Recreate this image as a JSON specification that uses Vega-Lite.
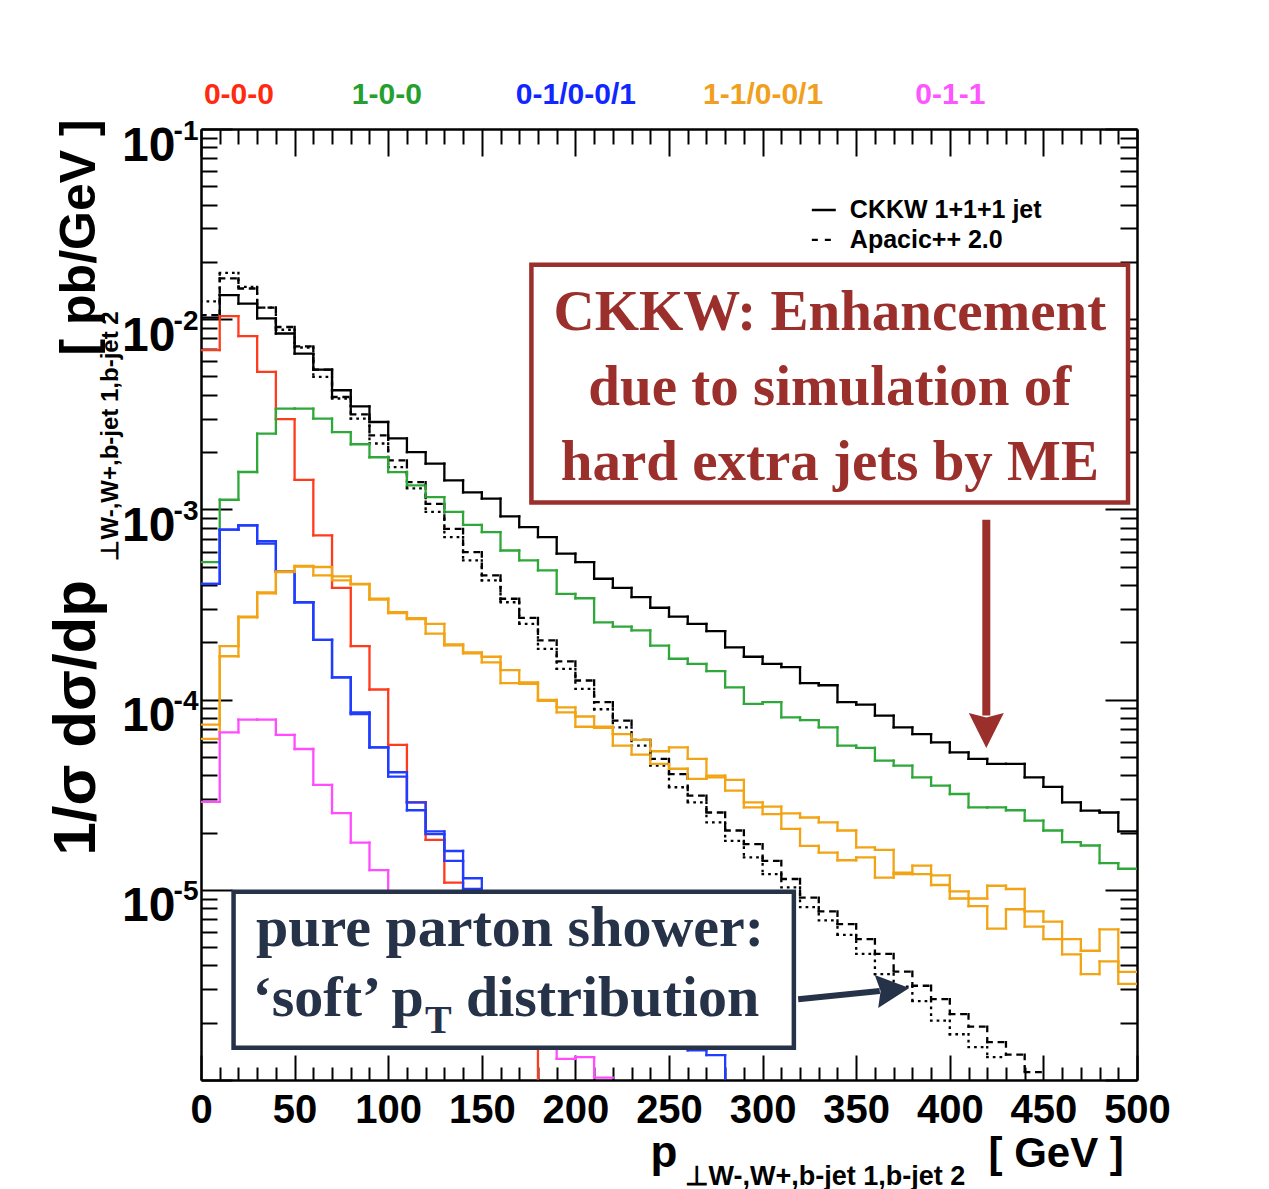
{
  "$schema": "https://vega.github.io/schema/vega-lite/v6.json",
  "width": 936,
  "height": 951,
  "autosize": {"type": "none"},
  "padding": {"left": 201, "top": 129, "right": 132, "bottom": 109},
  "background": "white",
  "config": {"view": {"stroke": null}, "axis": {"grid": false}},
  "resolve": {
    "axis": {"x": "independent", "y": "independent"},
    "scale": {"color": "independent", "strokeDash": "independent"}
  },
  "datasets": {
    "hist": [
      {"s":"ckkw","lo":0,"hi":10,"v":1.02e-2},{"s":"ckkw","lo":10,"hi":20,"v":1.337e-2},{"s":"ckkw","lo":20,"hi":30,"v":1.208e-2},{"s":"ckkw","lo":30,"hi":40,"v":1.009e-2},{"s":"ckkw","lo":40,"hi":50,"v":8.41e-3},
      {"s":"ckkw","lo":50,"hi":60,"v":6.59e-3},{"s":"ckkw","lo":60,"hi":70,"v":5.43e-3},{"s":"ckkw","lo":70,"hi":80,"v":4.23e-3},{"s":"ckkw","lo":80,"hi":90,"v":3.48e-3},{"s":"ckkw","lo":90,"hi":100,"v":2.88e-3},
      {"s":"ckkw","lo":100,"hi":110,"v":2.36e-3},{"s":"ckkw","lo":110,"hi":120,"v":2.0e-3},{"s":"ckkw","lo":120,"hi":130,"v":1.74e-3},{"s":"ckkw","lo":130,"hi":140,"v":1.42e-3},{"s":"ckkw","lo":140,"hi":150,"v":1.23e-3},
      {"s":"ckkw","lo":150,"hi":160,"v":1.14e-3},{"s":"ckkw","lo":160,"hi":170,"v":9.2e-4},{"s":"ckkw","lo":170,"hi":180,"v":8.07e-4},{"s":"ckkw","lo":180,"hi":190,"v":7.15e-4},{"s":"ckkw","lo":190,"hi":200,"v":5.85e-4},
      {"s":"ckkw","lo":200,"hi":210,"v":5.28e-4},{"s":"ckkw","lo":210,"hi":220,"v":4.32e-4},{"s":"ckkw","lo":220,"hi":230,"v":3.87e-4},{"s":"ckkw","lo":230,"hi":240,"v":3.46e-4},{"s":"ckkw","lo":240,"hi":250,"v":3.04e-4},
      {"s":"ckkw","lo":250,"hi":260,"v":2.73e-4},{"s":"ckkw","lo":260,"hi":270,"v":2.5e-4},{"s":"ckkw","lo":270,"hi":280,"v":2.29e-4},{"s":"ckkw","lo":280,"hi":290,"v":1.88e-4},{"s":"ckkw","lo":290,"hi":300,"v":1.68e-4},
      {"s":"ckkw","lo":300,"hi":310,"v":1.54e-4},{"s":"ckkw","lo":310,"hi":320,"v":1.48e-4},{"s":"ckkw","lo":320,"hi":330,"v":1.22e-4},{"s":"ckkw","lo":330,"hi":340,"v":1.19e-4},{"s":"ckkw","lo":340,"hi":350,"v":9.7e-5},
      {"s":"ckkw","lo":350,"hi":360,"v":9.4e-5},{"s":"ckkw","lo":360,"hi":370,"v":8.24e-5},{"s":"ckkw","lo":370,"hi":380,"v":7.15e-5},{"s":"ckkw","lo":380,"hi":390,"v":6.59e-5},{"s":"ckkw","lo":390,"hi":400,"v":5.96e-5},
      {"s":"ckkw","lo":400,"hi":410,"v":5.28e-5},{"s":"ckkw","lo":410,"hi":420,"v":4.88e-5},{"s":"ckkw","lo":420,"hi":430,"v":4.59e-5},{"s":"ckkw","lo":430,"hi":440,"v":4.59e-5},{"s":"ckkw","lo":440,"hi":450,"v":3.9e-5},
      {"s":"ckkw","lo":450,"hi":460,"v":3.48e-5},{"s":"ckkw","lo":460,"hi":470,"v":2.88e-5},{"s":"ckkw","lo":470,"hi":480,"v":2.61e-5},{"s":"ckkw","lo":480,"hi":490,"v":2.55e-5},{"s":"ckkw","lo":490,"hi":500,"v":2.03e-5},

      {"s":"apacic","lo":0,"hi":10,"v":1.05e-2},{"s":"apacic","lo":10,"hi":20,"v":1.64e-2},{"s":"apacic","lo":20,"hi":30,"v":1.45e-2},{"s":"apacic","lo":30,"hi":40,"v":1.15e-2},{"s":"apacic","lo":40,"hi":50,"v":9.1e-3},
      {"s":"apacic","lo":50,"hi":60,"v":7.2e-3},{"s":"apacic","lo":60,"hi":70,"v":5.43e-3},{"s":"apacic","lo":70,"hi":80,"v":3.9e-3},{"s":"apacic","lo":80,"hi":90,"v":3.16e-3},{"s":"apacic","lo":90,"hi":100,"v":2.45e-3},
      {"s":"apacic","lo":100,"hi":110,"v":1.81e-3},{"s":"apacic","lo":110,"hi":120,"v":1.39e-3},{"s":"apacic","lo":120,"hi":130,"v":1.07e-3},{"s":"apacic","lo":130,"hi":140,"v":7.9e-4},{"s":"apacic","lo":140,"hi":150,"v":5.96e-4},
      {"s":"apacic","lo":150,"hi":160,"v":4.5e-4},{"s":"apacic","lo":160,"hi":170,"v":3.39e-4},{"s":"apacic","lo":170,"hi":180,"v":2.69e-4},{"s":"apacic","lo":180,"hi":190,"v":2.05e-4},{"s":"apacic","lo":190,"hi":200,"v":1.59e-4},
      {"s":"apacic","lo":200,"hi":210,"v":1.26e-4},{"s":"apacic","lo":210,"hi":220,"v":9.7e-5},{"s":"apacic","lo":220,"hi":230,"v":7.75e-5},{"s":"apacic","lo":230,"hi":240,"v":6.14e-5},{"s":"apacic","lo":240,"hi":250,"v":4.88e-5},
      {"s":"apacic","lo":250,"hi":260,"v":4.06e-5},{"s":"apacic","lo":260,"hi":270,"v":3.13e-5},{"s":"apacic","lo":270,"hi":280,"v":2.55e-5},{"s":"apacic","lo":280,"hi":290,"v":2.05e-5},{"s":"apacic","lo":290,"hi":300,"v":1.74e-5},
      {"s":"apacic","lo":300,"hi":310,"v":1.42e-5},{"s":"apacic","lo":310,"hi":320,"v":1.14e-5},{"s":"apacic","lo":320,"hi":330,"v":9.1e-6},{"s":"apacic","lo":330,"hi":340,"v":7.7e-6},{"s":"apacic","lo":340,"hi":350,"v":6.6e-6},
      {"s":"apacic","lo":350,"hi":360,"v":5.5e-6},{"s":"apacic","lo":360,"hi":370,"v":4.6e-6},{"s":"apacic","lo":370,"hi":380,"v":3.71e-6},{"s":"apacic","lo":380,"hi":390,"v":3.13e-6},{"s":"apacic","lo":390,"hi":400,"v":2.66e-6},
      {"s":"apacic","lo":400,"hi":410,"v":2.22e-6},{"s":"apacic","lo":410,"hi":420,"v":1.91e-6},{"s":"apacic","lo":420,"hi":430,"v":1.58e-6},{"s":"apacic","lo":430,"hi":440,"v":1.36e-6},{"s":"apacic","lo":440,"hi":450,"v":1.1e-6},

      {"s":"apacic2","lo":0,"hi":10,"v":1.24e-2},{"s":"apacic2","lo":10,"hi":20,"v":1.75e-2},{"s":"apacic2","lo":20,"hi":30,"v":1.48e-2},{"s":"apacic2","lo":30,"hi":40,"v":1.15e-2},{"s":"apacic2","lo":40,"hi":50,"v":8.8e-3},
      {"s":"apacic2","lo":50,"hi":60,"v":7.1e-3},{"s":"apacic2","lo":60,"hi":70,"v":4.97e-3},{"s":"apacic2","lo":70,"hi":80,"v":3.83e-3},{"s":"apacic2","lo":80,"hi":90,"v":3.0e-3},{"s":"apacic2","lo":90,"hi":100,"v":2.22e-3},
      {"s":"apacic2","lo":100,"hi":110,"v":1.67e-3},{"s":"apacic2","lo":110,"hi":120,"v":1.29e-3},{"s":"apacic2","lo":120,"hi":130,"v":9.7e-4},{"s":"apacic2","lo":130,"hi":140,"v":7.15e-4},{"s":"apacic2","lo":140,"hi":150,"v":5.4e-4},
      {"s":"apacic2","lo":150,"hi":160,"v":4.23e-4},{"s":"apacic2","lo":160,"hi":170,"v":3.25e-4},{"s":"apacic2","lo":170,"hi":180,"v":2.5e-4},{"s":"apacic2","lo":180,"hi":190,"v":1.85e-4},{"s":"apacic2","lo":190,"hi":200,"v":1.45e-4},
      {"s":"apacic2","lo":200,"hi":210,"v":1.14e-4},{"s":"apacic2","lo":210,"hi":220,"v":8.9e-5},{"s":"apacic2","lo":220,"hi":230,"v":7.15e-5},{"s":"apacic2","lo":230,"hi":240,"v":5.73e-5},{"s":"apacic2","lo":240,"hi":250,"v":4.5e-5},
      {"s":"apacic2","lo":250,"hi":260,"v":3.46e-5},{"s":"apacic2","lo":260,"hi":270,"v":2.88e-5},{"s":"apacic2","lo":270,"hi":280,"v":2.26e-5},{"s":"apacic2","lo":280,"hi":290,"v":1.81e-5},{"s":"apacic2","lo":290,"hi":300,"v":1.48e-5},
      {"s":"apacic2","lo":300,"hi":310,"v":1.21e-5},{"s":"apacic2","lo":310,"hi":320,"v":1.03e-5},{"s":"apacic2","lo":320,"hi":330,"v":8.1e-6},{"s":"apacic2","lo":330,"hi":340,"v":6.9e-6},{"s":"apacic2","lo":340,"hi":350,"v":5.8e-6},
      {"s":"apacic2","lo":350,"hi":360,"v":4.6e-6},{"s":"apacic2","lo":360,"hi":370,"v":3.6e-6},{"s":"apacic2","lo":370,"hi":380,"v":3.1e-6},{"s":"apacic2","lo":380,"hi":390,"v":2.6e-6},{"s":"apacic2","lo":390,"hi":400,"v":2.05e-6},
      {"s":"apacic2","lo":400,"hi":410,"v":1.74e-6},{"s":"apacic2","lo":410,"hi":420,"v":1.49e-6},{"s":"apacic2","lo":420,"hi":430,"v":1.32e-6},

      {"s":"c000","lo":0,"hi":10,"v":6.87e-3},{"s":"c000","lo":10,"hi":20,"v":1.038e-2},{"s":"c000","lo":20,"hi":30,"v":8.15e-3},{"s":"c000","lo":30,"hi":40,"v":5.28e-3},{"s":"c000","lo":40,"hi":50,"v":2.98e-3},
      {"s":"c000","lo":50,"hi":60,"v":1.43e-3},{"s":"c000","lo":60,"hi":70,"v":7.3e-4},{"s":"c000","lo":70,"hi":80,"v":3.87e-4},{"s":"c000","lo":80,"hi":90,"v":1.91e-4},{"s":"c000","lo":90,"hi":100,"v":1.13e-4},
      {"s":"c000","lo":100,"hi":110,"v":5.78e-5},{"s":"c000","lo":110,"hi":120,"v":2.88e-5},{"s":"c000","lo":120,"hi":130,"v":1.83e-5},{"s":"c000","lo":130,"hi":140,"v":1.09e-5},{"s":"c000","lo":140,"hi":150,"v":7.5e-6},
      {"s":"c000","lo":150,"hi":160,"v":5.0e-6},{"s":"c000","lo":160,"hi":170,"v":3.0e-6},{"s":"c000","lo":170,"hi":180,"v":1.6e-6},{"s":"c000","lo":180,"hi":190,"v":9e-7},

      {"s":"c100","lo":0,"hi":10,"v":5.28e-4},{"s":"c100","lo":10,"hi":20,"v":1.124e-3},{"s":"c100","lo":20,"hi":30,"v":1.573e-3},{"s":"c100","lo":30,"hi":40,"v":2.5e-3},{"s":"c100","lo":40,"hi":50,"v":3.39e-3},
      {"s":"c100","lo":50,"hi":60,"v":3.39e-3},{"s":"c100","lo":60,"hi":70,"v":3.0e-3},{"s":"c100","lo":70,"hi":80,"v":2.55e-3},{"s":"c100","lo":80,"hi":90,"v":2.2e-3},{"s":"c100","lo":90,"hi":100,"v":1.88e-3},
      {"s":"c100","lo":100,"hi":110,"v":1.57e-3},{"s":"c100","lo":110,"hi":120,"v":1.337e-3},{"s":"c100","lo":120,"hi":130,"v":1.16e-3},{"s":"c100","lo":130,"hi":140,"v":9.7e-4},{"s":"c100","lo":140,"hi":150,"v":8.3e-4},
      {"s":"c100","lo":150,"hi":160,"v":7.59e-4},{"s":"c100","lo":160,"hi":170,"v":6.08e-4},{"s":"c100","lo":170,"hi":180,"v":5.4e-4},{"s":"c100","lo":180,"hi":190,"v":4.78e-4},{"s":"c100","lo":190,"hi":200,"v":3.6e-4},
      {"s":"c100","lo":200,"hi":210,"v":3.41e-4},{"s":"c100","lo":210,"hi":220,"v":2.55e-4},{"s":"c100","lo":220,"hi":230,"v":2.42e-4},{"s":"c100","lo":230,"hi":240,"v":2.31e-4},{"s":"c100","lo":240,"hi":250,"v":1.92e-4},
      {"s":"c100","lo":250,"hi":260,"v":1.64e-4},{"s":"c100","lo":260,"hi":270,"v":1.54e-4},{"s":"c100","lo":270,"hi":280,"v":1.41e-4},{"s":"c100","lo":280,"hi":290,"v":1.16e-4},{"s":"c100","lo":290,"hi":300,"v":9.5e-5},
      {"s":"c100","lo":300,"hi":310,"v":9.7e-5},{"s":"c100","lo":310,"hi":320,"v":8.07e-5},{"s":"c100","lo":320,"hi":330,"v":7.8e-5},{"s":"c100","lo":330,"hi":340,"v":7.15e-5},{"s":"c100","lo":340,"hi":350,"v":5.73e-5},
      {"s":"c100","lo":350,"hi":360,"v":5.57e-5},{"s":"c100","lo":360,"hi":370,"v":4.78e-5},{"s":"c100","lo":370,"hi":380,"v":4.5e-5},{"s":"c100","lo":380,"hi":390,"v":3.9e-5},{"s":"c100","lo":390,"hi":400,"v":3.53e-5},
      {"s":"c100","lo":400,"hi":410,"v":3.19e-5},{"s":"c100","lo":410,"hi":420,"v":2.71e-5},{"s":"c100","lo":420,"hi":430,"v":2.71e-5},{"s":"c100","lo":430,"hi":440,"v":2.62e-5},{"s":"c100","lo":440,"hi":450,"v":2.31e-5},
      {"s":"c100","lo":450,"hi":460,"v":2.05e-5},{"s":"c100","lo":460,"hi":470,"v":1.78e-5},{"s":"c100","lo":470,"hi":480,"v":1.71e-5},{"s":"c100","lo":480,"hi":490,"v":1.38e-5},{"s":"c100","lo":490,"hi":500,"v":1.29e-5},

      {"s":"c010a","lo":0,"hi":10,"v":4.06e-4},{"s":"c010a","lo":10,"hi":20,"v":7.82e-4},{"s":"c010a","lo":20,"hi":30,"v":8.24e-4},{"s":"c010a","lo":30,"hi":40,"v":6.8e-4},{"s":"c010a","lo":40,"hi":50,"v":4.72e-4},
      {"s":"c010a","lo":50,"hi":60,"v":3.25e-4},{"s":"c010a","lo":60,"hi":70,"v":2.06e-4},{"s":"c010a","lo":70,"hi":80,"v":1.31e-4},{"s":"c010a","lo":80,"hi":90,"v":8.57e-5},{"s":"c010a","lo":90,"hi":100,"v":5.61e-5},
      {"s":"c010a","lo":100,"hi":110,"v":4.15e-5},{"s":"c010a","lo":110,"hi":120,"v":2.88e-5},{"s":"c010a","lo":120,"hi":130,"v":2.03e-5},{"s":"c010a","lo":130,"hi":140,"v":1.6e-5},{"s":"c010a","lo":140,"hi":150,"v":1.15e-5},
      {"s":"c010a","lo":150,"hi":160,"v":8.5e-6},{"s":"c010a","lo":160,"hi":170,"v":7.0e-6},{"s":"c010a","lo":170,"hi":180,"v":6.0e-6},{"s":"c010a","lo":180,"hi":190,"v":5.0e-6},{"s":"c010a","lo":190,"hi":200,"v":4.2e-6},
      {"s":"c010a","lo":200,"hi":210,"v":3.5e-6},{"s":"c010a","lo":210,"hi":220,"v":3.0e-6},{"s":"c010a","lo":220,"hi":230,"v":2.5e-6},{"s":"c010a","lo":230,"hi":240,"v":2.1e-6},{"s":"c010a","lo":240,"hi":250,"v":1.8e-6},
      {"s":"c010a","lo":250,"hi":260,"v":1.6e-6},{"s":"c010a","lo":260,"hi":270,"v":1.43e-6},{"s":"c010a","lo":270,"hi":280,"v":1.35e-6},{"s":"c010a","lo":280,"hi":290,"v":9e-7},

      {"s":"c010b","lo":0,"hi":10,"v":4.06e-4},{"s":"c010b","lo":10,"hi":20,"v":7.82e-4},{"s":"c010b","lo":20,"hi":30,"v":8.24e-4},{"s":"c010b","lo":30,"hi":40,"v":6.6e-4},{"s":"c010b","lo":40,"hi":50,"v":4.72e-4},
      {"s":"c010b","lo":50,"hi":60,"v":3.25e-4},{"s":"c010b","lo":60,"hi":70,"v":2.06e-4},{"s":"c010b","lo":70,"hi":80,"v":1.31e-4},{"s":"c010b","lo":80,"hi":90,"v":8.4e-5},{"s":"c010b","lo":90,"hi":100,"v":5.61e-5},
      {"s":"c010b","lo":100,"hi":110,"v":3.94e-5},{"s":"c010b","lo":110,"hi":120,"v":2.62e-5},{"s":"c010b","lo":120,"hi":130,"v":1.96e-5},{"s":"c010b","lo":130,"hi":140,"v":1.42e-5},{"s":"c010b","lo":140,"hi":150,"v":1.01e-5},
      {"s":"c010b","lo":150,"hi":160,"v":7.5e-6},{"s":"c010b","lo":160,"hi":170,"v":6.0e-6},{"s":"c010b","lo":170,"hi":180,"v":5.0e-6},

      {"s":"c110a","lo":0,"hi":10,"v":7.38e-5},{"s":"c110a","lo":10,"hi":20,"v":1.91e-4},{"s":"c110a","lo":20,"hi":30,"v":2.73e-4},{"s":"c110a","lo":30,"hi":40,"v":3.66e-4},{"s":"c110a","lo":40,"hi":50,"v":4.72e-4},
      {"s":"c110a","lo":50,"hi":60,"v":5.04e-4},{"s":"c110a","lo":60,"hi":70,"v":4.98e-4},{"s":"c110a","lo":70,"hi":80,"v":4.44e-4},{"s":"c110a","lo":80,"hi":90,"v":4.06e-4},{"s":"c110a","lo":90,"hi":100,"v":3.39e-4},
      {"s":"c110a","lo":100,"hi":110,"v":2.88e-4},{"s":"c110a","lo":110,"hi":120,"v":2.68e-4},{"s":"c110a","lo":120,"hi":130,"v":2.5e-4},{"s":"c110a","lo":130,"hi":140,"v":1.95e-4},{"s":"c110a","lo":140,"hi":150,"v":1.77e-4},
      {"s":"c110a","lo":150,"hi":160,"v":1.68e-4},{"s":"c110a","lo":160,"hi":170,"v":1.43e-4},{"s":"c110a","lo":170,"hi":180,"v":1.23e-4},{"s":"c110a","lo":180,"hi":190,"v":9.95e-5},{"s":"c110a","lo":190,"hi":200,"v":9.1e-5},
      {"s":"c110a","lo":200,"hi":210,"v":8.15e-5},{"s":"c110a","lo":210,"hi":220,"v":7.2e-5},{"s":"c110a","lo":220,"hi":230,"v":6.59e-5},{"s":"c110a","lo":230,"hi":240,"v":6.14e-5},{"s":"c110a","lo":240,"hi":250,"v":5.35e-5},
      {"s":"c110a","lo":250,"hi":260,"v":5.61e-5},{"s":"c110a","lo":260,"hi":270,"v":4.88e-5},{"s":"c110a","lo":270,"hi":280,"v":3.98e-5},{"s":"c110a","lo":280,"hi":290,"v":3.78e-5},{"s":"c110a","lo":290,"hi":300,"v":2.88e-5},
      {"s":"c110a","lo":300,"hi":310,"v":2.74e-5},{"s":"c110a","lo":310,"hi":320,"v":2.52e-5},{"s":"c110a","lo":320,"hi":330,"v":2.4e-5},{"s":"c110a","lo":330,"hi":340,"v":2.26e-5},{"s":"c110a","lo":340,"hi":350,"v":2.05e-5},
      {"s":"c110a","lo":350,"hi":360,"v":1.67e-5},{"s":"c110a","lo":360,"hi":370,"v":1.62e-5},{"s":"c110a","lo":370,"hi":380,"v":1.23e-5},{"s":"c110a","lo":380,"hi":390,"v":1.34e-5},{"s":"c110a","lo":390,"hi":400,"v":1.19e-5},
      {"s":"c110a","lo":400,"hi":410,"v":9.8e-6},{"s":"c110a","lo":410,"hi":420,"v":9.0e-6},{"s":"c110a","lo":420,"hi":430,"v":1.05e-5},{"s":"c110a","lo":430,"hi":440,"v":1.01e-5},{"s":"c110a","lo":440,"hi":450,"v":7.7e-6},
      {"s":"c110a","lo":450,"hi":460,"v":6.8e-6},{"s":"c110a","lo":460,"hi":470,"v":5.5e-6},{"s":"c110a","lo":470,"hi":480,"v":4.78e-6},{"s":"c110a","lo":480,"hi":490,"v":6.2e-6},{"s":"c110a","lo":490,"hi":500,"v":3.7e-6},

      {"s":"c110b","lo":0,"hi":10,"v":6.21e-5},{"s":"c110b","lo":10,"hi":20,"v":1.69e-4},{"s":"c110b","lo":20,"hi":30,"v":2.71e-4},{"s":"c110b","lo":30,"hi":40,"v":3.62e-4},{"s":"c110b","lo":40,"hi":50,"v":4.68e-4},
      {"s":"c110b","lo":50,"hi":60,"v":5.0e-4},{"s":"c110b","lo":60,"hi":70,"v":4.5e-4},{"s":"c110b","lo":70,"hi":80,"v":4.23e-4},{"s":"c110b","lo":80,"hi":90,"v":4.03e-4},{"s":"c110b","lo":90,"hi":100,"v":3.36e-4},
      {"s":"c110b","lo":100,"hi":110,"v":2.85e-4},{"s":"c110b","lo":110,"hi":120,"v":2.65e-4},{"s":"c110b","lo":120,"hi":130,"v":2.22e-4},{"s":"c110b","lo":130,"hi":140,"v":1.93e-4},{"s":"c110b","lo":140,"hi":150,"v":1.75e-4},
      {"s":"c110b","lo":150,"hi":160,"v":1.57e-4},{"s":"c110b","lo":160,"hi":170,"v":1.22e-4},{"s":"c110b","lo":170,"hi":180,"v":1.21e-4},{"s":"c110b","lo":180,"hi":190,"v":9.85e-5},{"s":"c110b","lo":190,"hi":200,"v":8.57e-5},
      {"s":"c110b","lo":200,"hi":210,"v":7.2e-5},{"s":"c110b","lo":210,"hi":220,"v":7.1e-5},{"s":"c110b","lo":220,"hi":230,"v":5.73e-5},{"s":"c110b","lo":230,"hi":240,"v":5.14e-5},{"s":"c110b","lo":240,"hi":250,"v":4.59e-5},
      {"s":"c110b","lo":250,"hi":260,"v":4.33e-5},{"s":"c110b","lo":260,"hi":270,"v":3.83e-5},{"s":"c110b","lo":270,"hi":280,"v":3.9e-5},{"s":"c110b","lo":280,"hi":290,"v":3.32e-5},{"s":"c110b","lo":290,"hi":300,"v":2.71e-5},
      {"s":"c110b","lo":300,"hi":310,"v":2.5e-5},{"s":"c110b","lo":310,"hi":320,"v":2.09e-5},{"s":"c110b","lo":320,"hi":330,"v":1.7e-5},{"s":"c110b","lo":330,"hi":340,"v":1.57e-5},{"s":"c110b","lo":340,"hi":350,"v":1.43e-5},
      {"s":"c110b","lo":350,"hi":360,"v":1.48e-5},{"s":"c110b","lo":360,"hi":370,"v":1.16e-5},{"s":"c110b","lo":370,"hi":380,"v":1.21e-5},{"s":"c110b","lo":380,"hi":390,"v":1.21e-5},{"s":"c110b","lo":390,"hi":400,"v":1.06e-5},
      {"s":"c110b","lo":400,"hi":410,"v":9.0e-6},{"s":"c110b","lo":410,"hi":420,"v":8.2e-6},{"s":"c110b","lo":420,"hi":430,"v":6.25e-6},{"s":"c110b","lo":430,"hi":440,"v":7.9e-6},{"s":"c110b","lo":440,"hi":450,"v":6.4e-6},
      {"s":"c110b","lo":450,"hi":460,"v":5.5e-6},{"s":"c110b","lo":460,"hi":470,"v":4.58e-6},{"s":"c110b","lo":470,"hi":480,"v":3.6e-6},{"s":"c110b","lo":480,"hi":490,"v":4.2e-6},{"s":"c110b","lo":490,"hi":500,"v":3.2e-6},

      {"s":"c011","lo":0,"hi":10,"v":2.9e-5},{"s":"c011","lo":10,"hi":20,"v":6.73e-5},{"s":"c011","lo":20,"hi":30,"v":7.85e-5},{"s":"c011","lo":30,"hi":40,"v":7.85e-5},{"s":"c011","lo":40,"hi":50,"v":6.52e-5},
      {"s":"c011","lo":50,"hi":60,"v":5.5e-5},{"s":"c011","lo":60,"hi":70,"v":3.56e-5},{"s":"c011","lo":70,"hi":80,"v":2.53e-5},{"s":"c011","lo":80,"hi":90,"v":1.77e-5},{"s":"c011","lo":90,"hi":100,"v":1.27e-5},
      {"s":"c011","lo":100,"hi":110,"v":9.0e-6},{"s":"c011","lo":110,"hi":120,"v":7.0e-6},{"s":"c011","lo":120,"hi":130,"v":5.5e-6},{"s":"c011","lo":130,"hi":140,"v":4.3e-6},{"s":"c011","lo":140,"hi":150,"v":3.4e-6},
      {"s":"c011","lo":150,"hi":160,"v":2.7e-6},{"s":"c011","lo":160,"hi":170,"v":2.2e-6},{"s":"c011","lo":170,"hi":180,"v":1.8e-6},{"s":"c011","lo":180,"hi":190,"v":1.55e-6},{"s":"c011","lo":190,"hi":200,"v":1.29e-6},
      {"s":"c011","lo":200,"hi":210,"v":1.32e-6},{"s":"c011","lo":210,"hi":220,"v":1.03e-6}
    ],
    "boxes": [
      {"b":"me","x":176.5,"x2":495.2,"y":1.931e-2,"y2":1.088e-3},
      {"b":"ps","x":17.4,"x2":316.7,"y":9.76e-6,"y2":1.479e-6}
    ],
    "metext": [
      {"t":"CKKW: Enhancement","x":335.9,"y":8.75e-3},
      {"t":"due to simulation of","x":335.9,"y":3.526e-3},
      {"t":"hard extra jets by ME","x":335.9,"y":1.433e-3}
    ],
    "pstext": [
      {"t":"pure parton shower:","x":29.4,"y":5.07e-6},
      {"t":"‘soft’ p","x":27.5,"y":2.17e-6},
      {"t":"T","x":119.6,"y":1.77e-6},
      {"t":"distribution","x":141.5,"y":2.17e-6}
    ],
    "arrows": [
      {"a":"me","x":419.5,"x2":419.5,"y":8.83e-4,"y2":8.24e-5,"hx":419.5,"hy":6.87e-5},
      {"a":"ps","x":319.0,"x2":362.6,"y":2.66e-6,"y2":2.94e-6,"hx":369.6,"hy":2.98e-6}
    ],
    "legend": [
      {"k":"CKKW 1+1+1 jet","x":326.3,"x2":339.1,"tx":346.6,"y":3.75e-2},
      {"k":"Apacic++ 2.0","x":326.3,"x2":338.0,"tx":346.6,"y":2.61e-2}
    ]
  },
  "layer": [
    {
      "data": {"name": "hist"},
      "mark": {"type": "rule", "strokeWidth": 2.3, "strokeCap": "square", "clip": true},
      "encoding": {
        "x": {"field": "lo", "type": "quantitative", "scale": {"domain": [0, 500], "nice": false, "zero": false},
          "axis": {"orient": "bottom", "values": [0,10,20,30,40,50,60,70,80,90,100,110,120,130,140,150,160,170,180,190,200,210,220,230,240,250,260,270,280,290,300,310,320,330,340,350,360,370,380,390,400,410,420,430,440,450,460,470,480,490,500],
            "labels": false, "title": null, "domainColor": "black", "domainWidth": 2.5, "tickColor": "black", "tickWidth": 2,
            "tickSize": {"condition": {"test": "datum.value % 50 == 0", "value": -25}, "value": -13}}},
        "x2": {"field": "hi"},
        "y": {"field": "v", "type": "quantitative", "scale": {"type": "log", "domain": [1e-6, 0.1], "nice": false},
          "axis": {"orient": "left", "values": [1e-6,2e-6,3e-6,4e-6,5e-6,6e-6,7e-6,8e-6,9e-6,1e-5,2e-5,3e-5,4e-5,5e-5,6e-5,7e-5,8e-5,9e-5,1e-4,2e-4,3e-4,4e-4,5e-4,6e-4,7e-4,8e-4,9e-4,1e-3,2e-3,3e-3,4e-3,5e-3,6e-3,7e-3,8e-3,9e-3,1e-2,2e-2,3e-2,4e-2,5e-2,6e-2,7e-2,8e-2,9e-2,1e-1],
            "labels": false, "title": null, "domainColor": "black", "domainWidth": 2.5, "tickColor": "black", "tickWidth": 2,
            "tickSize": {"condition": {"test": "abs(log(datum.value)/LN10 - round(log(datum.value)/LN10)) < 0.01", "value": -31}, "value": -16}}},
        "color": {"field": "s", "type": "nominal", "legend": null,
          "scale": {"domain": ["ckkw","apacic","apacic2","c000","c100","c010a","c010b","c110a","c110b","c011"],
                    "range": ["#000000","#000000","#000000","#ff3b1d","#2fa83a","#1f3cff","#1f3cff","#f2a414","#f2a414","#ff4cff"]}},
        "strokeDash": {"field": "s", "type": "nominal", "legend": null,
          "scale": {"domain": ["ckkw","apacic","apacic2","c000","c100","c010a","c010b","c110a","c110b","c011"],
                    "range": [[1,0],[4.5,7],[0.4,6.3],[1,0],[1,0],[1,0],[1,0],[1,0],[1,0],[1,0]]}}
      }
    },
    {
      "data": {"name": "hist"},
      "transform": [
        {"window": [{"op": "lag", "field": "v", "as": "prev"}], "groupby": ["s"], "sort": [{"field": "lo", "order": "ascending"}]},
        {"filter": "isValid(datum.prev)"}
      ],
      "mark": {"type": "rule", "strokeWidth": 2.3, "strokeCap": "square", "clip": true},
      "encoding": {
        "x": {"field": "lo", "type": "quantitative", "scale": {"domain": [0, 500], "nice": false, "zero": false},
          "axis": {"orient": "top", "values": [0,10,20,30,40,50,60,70,80,90,100,110,120,130,140,150,160,170,180,190,200,210,220,230,240,250,260,270,280,290,300,310,320,330,340,350,360,370,380,390,400,410,420,430,440,450,460,470,480,490,500],
            "labels": false, "title": null, "domainColor": "black", "domainWidth": 2.5, "tickColor": "black", "tickWidth": 2,
            "tickSize": {"condition": {"test": "datum.value % 50 == 0", "value": -27}, "value": -15}}},
        "y": {"field": "prev", "type": "quantitative", "scale": {"type": "log", "domain": [1e-6, 0.1], "nice": false},
          "axis": {"orient": "right", "values": [1e-6,2e-6,3e-6,4e-6,5e-6,6e-6,7e-6,8e-6,9e-6,1e-5,2e-5,3e-5,4e-5,5e-5,6e-5,7e-5,8e-5,9e-5,1e-4,2e-4,3e-4,4e-4,5e-4,6e-4,7e-4,8e-4,9e-4,1e-3,2e-3,3e-3,4e-3,5e-3,6e-3,7e-3,8e-3,9e-3,1e-2,2e-2,3e-2,4e-2,5e-2,6e-2,7e-2,8e-2,9e-2,1e-1],
            "labels": false, "title": null, "domainColor": "black", "domainWidth": 2.5, "tickColor": "black", "tickWidth": 2,
            "tickSize": {"condition": {"test": "abs(log(datum.value)/LN10 - round(log(datum.value)/LN10)) < 0.01", "value": -32}, "value": -17}}},
        "y2": {"field": "v"},
        "color": {"field": "s", "type": "nominal", "legend": null,
          "scale": {"domain": ["ckkw","apacic","apacic2","c000","c100","c010a","c010b","c110a","c110b","c011"],
                    "range": ["#000000","#000000","#000000","#ff3b1d","#2fa83a","#1f3cff","#1f3cff","#f2a414","#f2a414","#ff4cff"]}},
        "strokeDash": {"field": "s", "type": "nominal", "legend": null,
          "scale": {"domain": ["ckkw","apacic","apacic2","c000","c100","c010a","c010b","c110a","c110b","c011"],
                    "range": [[1,0],[4.5,7],[0.4,6.3],[1,0],[1,0],[1,0],[1,0],[1,0],[1,0],[1,0]]}}
      }
    },
    {
      "data": {"name": "boxes"},
      "mark": {"type": "rect", "fill": "white", "strokeWidth": 4.5},
      "encoding": {
        "x": {"field": "x", "type": "quantitative", "scale": {"domain": [0, 500], "nice": false, "zero": false},
          "axis": {"orient": "bottom", "values": [0,50,100,150,200,250,300,350,400,450,500], "ticks": false, "domain": false,
            "labelFont": "Liberation Sans", "labelFontWeight": "bold", "labelFontSize": 40, "labelColor": "black",
            "labelBaseline": "alphabetic", "labelPadding": 42, "labelFlush": false, "labelOverlap": false, "labelBound": false,
            "title": "p", "titleFont": "Liberation Sans", "titleFontWeight": "bold", "titleFontSize": 44, "titleColor": "black",
            "titleAlign": "left", "titleBaseline": "alphabetic", "titleX": 449, "titleY": 86, "titleAngle": 0}},
        "x2": {"field": "x2"},
        "y": {"field": "y", "type": "quantitative", "scale": {"type": "log", "domain": [1e-6, 0.1], "nice": false},
          "axis": {"orient": "left", "values": [1e-1,1e-2,1e-3,1e-4,1e-5], "ticks": false, "domain": false,
            "labelExpr": "'10'", "labelFont": "Liberation Sans", "labelFontWeight": "bold", "labelFontSize": 48, "labelColor": "black",
            "labelBaseline": "alphabetic", "labelOffset": 31, "labelPadding": 26, "labelOverlap": false, "labelBound": false, "labelFlush": false,
            "title": "1/σ dσ/dp", "titleFont": "Liberation Sans", "titleFontWeight": "bold", "titleFontSize": 60, "titleColor": "black",
            "titleAngle": 270, "titleAlign": "left", "titleBaseline": "alphabetic", "titleX": -107, "titleY": 726}},
        "y2": {"field": "y2"},
        "stroke": {"field": "b", "type": "nominal", "legend": null, "scale": {"domain": ["me", "ps"], "range": ["#9b2f2b", "#263248"]}}
      }
    },
    {
      "data": {"name": "metext"},
      "mark": {"type": "text", "font": "Liberation Serif", "fontWeight": "bold", "fontSize": 57, "color": "#9b2f2b", "align": "center", "baseline": "alphabetic"},
      "encoding": {
        "x": {"field": "x", "type": "quantitative", "scale": {"domain": [0, 500], "nice": false, "zero": false},
          "axis": {"orient": "top", "values": [20, 99, 200, 300, 400], "ticks": false, "domain": false, "title": null,
            "labelExpr": "datum.value == 20 ? '0-0-0' : datum.value == 99 ? '1-0-0' : datum.value == 200 ? '0-1/0-0/1' : datum.value == 300 ? '1-1/0-0/1' : '0-1-1'",
            "labelFont": "Liberation Sans", "labelFontWeight": "bold", "labelFontSize": 30, "labelBaseline": "alphabetic", "labelPadding": 26,
            "labelFlush": false, "labelOverlap": false, "labelBound": false,
            "labelColor": {"condition": [
              {"test": "datum.value == 20", "value": "#ff2a10"},
              {"test": "datum.value == 99", "value": "#25a030"},
              {"test": "datum.value == 200", "value": "#1028ff"},
              {"test": "datum.value == 300", "value": "#f0a020"}], "value": "#ff55ff"}}},
        "y": {"field": "y", "type": "quantitative", "scale": {"type": "log", "domain": [1e-6, 0.1], "nice": false},
          "axis": {"orient": "left", "values": [1e-1,1e-2,1e-3,1e-4,1e-5], "ticks": false, "domain": false,
            "labelExpr": "'-' + round(-log(datum.value)/LN10)", "labelFont": "Liberation Sans", "labelFontWeight": "bold", "labelFontSize": 28, "labelColor": "black",
            "labelBaseline": "alphabetic", "labelOffset": 10, "labelPadding": 3, "labelOverlap": false, "labelBound": false, "labelFlush": false,
            "title": "⊥W-,W+,b-jet 1,b-jet 2", "titleFont": "Liberation Sans", "titleFontWeight": "bold", "titleFontSize": 24, "titleColor": "black",
            "titleAngle": 270, "titleAlign": "left", "titleBaseline": "alphabetic", "titleX": -84, "titleY": 431}},
        "text": {"field": "t"}
      }
    },
    {
      "data": {"name": "pstext"},
      "mark": {"type": "text", "font": "Liberation Serif", "fontWeight": "bold", "color": "#263248", "align": "left", "baseline": "alphabetic"},
      "encoding": {
        "x": {"field": "x", "type": "quantitative", "scale": {"domain": [0, 500], "nice": false, "zero": false},
          "axis": {"orient": "bottom", "ticks": false, "labels": false, "domain": false,
            "title": "⊥W-,W+,b-jet 1,b-jet 2", "titleFont": "Liberation Sans", "titleFontWeight": "bold", "titleFontSize": 27, "titleColor": "black",
            "titleAlign": "left", "titleBaseline": "alphabetic", "titleX": 483, "titleY": 104, "titleAngle": 0}},
        "y": {"field": "y", "type": "quantitative", "scale": {"type": "log", "domain": [1e-6, 0.1], "nice": false},
          "axis": {"orient": "left", "ticks": false, "labels": false, "domain": false,
            "title": "[ pb/GeV ]", "titleFont": "Liberation Sans", "titleFontWeight": "bold", "titleFontSize": 50, "titleColor": "black",
            "titleAngle": 270, "titleAlign": "left", "titleBaseline": "alphabetic", "titleX": -107, "titleY": 226}},
        "text": {"field": "t"},
        "size": {"condition": {"test": "datum.t == 'T'", "value": 40}, "value": 58}
      }
    },
    {
      "data": {"name": "arrows"},
      "mark": {"type": "rule", "strokeCap": "butt"},
      "encoding": {
        "x": {"field": "x", "type": "quantitative", "scale": {"domain": [0, 500], "nice": false, "zero": false},
          "axis": {"orient": "bottom", "ticks": false, "labels": false, "domain": false,
            "title": "[ GeV ]", "titleFont": "Liberation Sans", "titleFontWeight": "bold", "titleFontSize": 42, "titleColor": "black",
            "titleAlign": "left", "titleBaseline": "alphabetic", "titleX": 787, "titleY": 86, "titleAngle": 0}},
        "x2": {"field": "x2"},
        "y": {"field": "y", "type": "quantitative", "scale": {"type": "log", "domain": [1e-6, 0.1], "nice": false}, "axis": null},
        "y2": {"field": "y2"},
        "color": {"field": "a", "type": "nominal", "legend": null, "scale": {"domain": ["me", "ps"], "range": ["#9b2f2b", "#263248"]}},
        "strokeWidth": {"condition": {"test": "datum.a == 'me'", "value": 8}, "value": 6}
      }
    },
    {
      "data": {"name": "arrows"},
      "mark": {"type": "point", "filled": true, "opacity": 1, "strokeWidth": 0},
      "encoding": {
        "x": {"field": "hx", "type": "quantitative", "scale": {"domain": [0, 500], "nice": false, "zero": false}, "axis": null},
        "y": {"field": "hy", "type": "quantitative", "scale": {"type": "log", "domain": [1e-6, 0.1], "nice": false}, "axis": null},
        "color": {"field": "a", "type": "nominal", "legend": null, "scale": {"domain": ["me", "ps"], "range": ["#9b2f2b", "#263248"]}},
        "shape": {"condition": {"test": "datum.a == 'me'", "value": "M-1,-1L0,-0.75L1,-1L0,1Z"}, "value": "M-1,-1L-0.75,0L-1,1L1,0Z"},
        "size": {"condition": {"test": "datum.a == 'me'", "value": 1225}, "value": 1090},
        "angle": {"condition": {"test": "datum.a == 'ps'", "value": -6}, "value": 0}
      }
    },
    {
      "data": {"name": "legend"},
      "mark": {"type": "rule", "strokeWidth": 2.3, "color": "black"},
      "encoding": {
        "x": {"field": "x", "type": "quantitative", "scale": {"domain": [0, 500], "nice": false, "zero": false}, "axis": null},
        "x2": {"field": "x2"},
        "y": {"field": "y", "type": "quantitative", "scale": {"type": "log", "domain": [1e-6, 0.1], "nice": false}, "axis": null},
        "strokeDash": {"field": "k", "type": "nominal", "legend": null, "scale": {"domain": ["CKKW 1+1+1 jet", "Apacic++ 2.0"], "range": [[1, 0], [6, 7]]}}
      }
    },
    {
      "data": {"name": "legend"},
      "mark": {"type": "text", "font": "Liberation Sans", "fontWeight": "bold", "fontSize": 25, "color": "black", "align": "left", "baseline": "middle"},
      "encoding": {
        "x": {"field": "tx", "type": "quantitative", "scale": {"domain": [0, 500], "nice": false, "zero": false}, "axis": null},
        "y": {"field": "y", "type": "quantitative", "scale": {"type": "log", "domain": [1e-6, 0.1], "nice": false}, "axis": null},
        "text": {"field": "k"}
      }
    }
  ]
}
